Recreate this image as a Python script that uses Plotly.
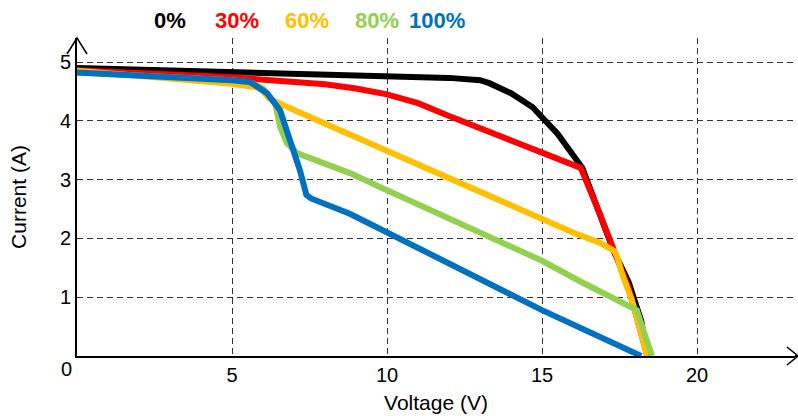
import plotly.graph_objects as go

# ---- data ----
series_names = ["0%", "30%", "60%", "80%", "100%"]
series_colors = ["#000000", "#FF0000", "#FFC000", "#92D050", "#0070C0"]

v_0 = [0, 2, 5, 8, 10, 12, 13, 13.3, 14, 14.7, 15.0, 15.5, 16.0, 16.3, 16.8, 17.3, 17.8, 18.2, 18.4]
i_0 = [4.9, 4.87, 4.83, 4.8, 4.77, 4.73, 4.69, 4.64, 4.47, 4.23, 4.06, 3.78, 3.42, 3.2, 2.5, 1.8, 1.25, 0.6, 0]

v_30 = [0, 3, 5, 8, 9, 10, 11, 12, 13, 14, 15, 16.25, 16.8, 17.3, 17.8, 18.4]
i_30 = [4.86, 4.8, 4.74, 4.62, 4.55, 4.45, 4.3, 4.08, 3.87, 3.67, 3.47, 3.2, 2.5, 1.8, 1.15, 0]

v_60 = [0, 2.5, 5, 5.9, 6.05, 6.2, 6.8, 8.8, 10, 12.5, 15, 16, 16.9, 17.35, 17.45, 17.55, 17.9, 18.4]
i_60 = [4.85, 4.75, 4.63, 4.56, 4.48, 4.38, 4.23, 3.77, 3.48, 2.9, 2.32, 2.1, 1.92, 1.78, 1.65, 1.45, 0.95, 0]

v_80 = [0, 2.5, 5, 5.6, 6.0, 6.2, 6.4, 6.55, 6.77, 7.1, 8.8, 10, 12.5, 15, 16.3, 17.4, 18.06, 18.3, 18.55]
i_80 = [4.82, 4.76, 4.69, 4.65, 4.55, 4.42, 4.28, 3.9, 3.62, 3.45, 3.11, 2.82, 2.22, 1.62, 1.25, 0.95, 0.78, 0.39, 0]

v_100 = [0, 2.5, 5, 5.58, 6.13, 6.55, 6.87, 7.19, 7.4, 7.55, 8.8, 10, 13.4, 13.58, 13.7, 15, 18.2]
i_100 = [4.82, 4.76, 4.69, 4.66, 4.47, 4.18, 3.67, 3.16, 2.74, 2.68, 2.42, 2.1, 1.2, 1.16, 1.1, 0.78, 0]

x_ticks = [5, 10, 15, 20]
y_ticks = [1, 2, 3, 4, 5]
x_title = "Voltage (V)"
y_title = "Current (A)"

legend_px = [170, 237, 307, 377, 437]  # horizontal pixel centres of the colour labels

voltages = [v_0, v_30, v_60, v_80, v_100]
currents = [i_0, i_30, i_60, i_80, i_100]

FONT = "Arial, Liberation Sans, sans-serif"
W, H = 798, 416
ML, MR, MT, MB = 77, 3, 38, 60
PW, PH = W - ML - MR, H - MT - MB

fig = go.Figure()
for name, col, v, i in zip(series_names, series_colors, voltages, currents):
    fig.add_trace(go.Scatter(x=v, y=i, mode="lines", name=name,
                             line=dict(color=col, width=6), showlegend=False))

def px_x(p):
    return (p - ML) / PW

def px_y(p):
    return (H - MB - p) / PH

# colour labels across the top
for name, col, px in zip(series_names, series_colors, legend_px):
    fig.add_annotation(x=px_x(px), y=px_y(20), xref="paper", yref="paper",
                       text=f"<b>{name}</b>", showarrow=False,
                       font=dict(family=FONT, size=22, color=col),
                       xanchor="center", yanchor="middle")

# origin label
fig.add_annotation(x=0, y=0, xref="x", yref="y", text="0", showarrow=False,
                   xanchor="right", yanchor="top", xshift=-3, yshift=0,
                   font=dict(family=FONT, size=20, color="#000"))

# axis arrowheads
fig.add_shape(type="path", xref="paper", yref="paper",
              path=f"M {px_x(787)},{px_y(347)} L {px_x(798)},{px_y(356)} L {px_x(787)},{px_y(365)}",
              line=dict(color="#000", width=1.5))
fig.add_shape(type="line", xref="paper", yref="paper",
              x0=1, y0=0, x1=px_x(797), y1=0, line=dict(color="#000", width=2))
fig.add_shape(type="path", xref="paper", yref="paper",
              path=f"M {px_x(67)},{px_y(54)} L {px_x(77)},{px_y(38)} L {px_x(87)},{px_y(54)}",
              line=dict(color="#000", width=1.5))

axis_common = dict(showline=True, linecolor="#000", linewidth=2, zeroline=False,
                   showgrid=True, gridcolor="#333333", gridwidth=1, griddash="6px,4px",
                   ticks="", tickfont=dict(family=FONT, size=20, color="#000"),
                   fixedrange=True, automargin=False)

fig.update_layout(
    width=W, height=H,
    margin=dict(l=ML, r=MR, t=MT, b=MB),
    paper_bgcolor="white", plot_bgcolor="white",
    xaxis=dict(range=[0, PW / 31.0], tickvals=x_ticks,
               title=dict(text=x_title, font=dict(family=FONT, size=21, color="#000"), standoff=10),
               **axis_common),
    yaxis=dict(range=[0, PH / 58.8], tickvals=y_ticks,
               title=dict(text=y_title, font=dict(family=FONT, size=21, color="#000"), standoff=28),
               **axis_common),
    font=dict(family=FONT, color="#000"),
)

fig.write_html("out.html", config={"displayModeBar": False},
               post_script="document.body.style.margin='0';document.body.style.overflow='hidden';")
